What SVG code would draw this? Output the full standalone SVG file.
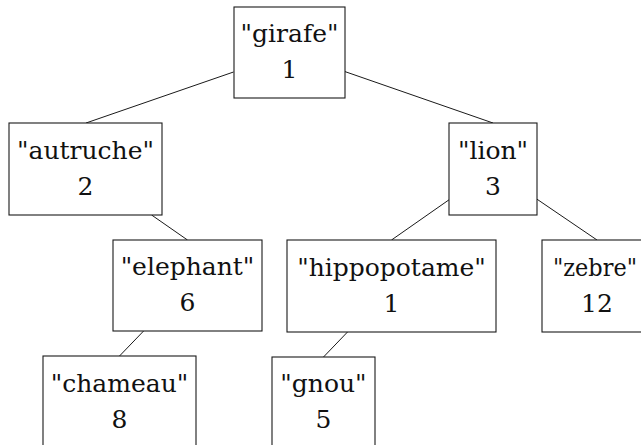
<svg xmlns="http://www.w3.org/2000/svg" width="641" height="445" viewBox="0 0 641 445">
<style>
.box{fill:#fff;stroke:#1a1a1a;stroke-width:1.1}
.edge{stroke:#1a1a1a;stroke-width:1;fill:none}
.t{font-family:'DejaVu Serif',serif;font-size:25px;fill:#111;text-anchor:middle}
</style>
<rect width="641" height="445" fill="#fff"/>
<g id="connectors">
<line class="edge" x1="233.5" y1="72" x2="86" y2="123"/>
<line class="edge" x1="345" y1="71.6" x2="493" y2="123"/>
<line class="edge" x1="151.6" y1="215" x2="187.5" y2="240"/>
<line class="edge" x1="143.6" y1="331" x2="119.5" y2="356"/>
<line class="edge" x1="449" y1="199.8" x2="391.5" y2="240"/>
<line class="edge" x1="537" y1="199.2" x2="597" y2="240"/>
<line class="edge" x1="347.5" y1="332" x2="323.5" y2="357"/>
</g>
<g id="girafe">
<rect class="box" x="234" y="7" width="111" height="91"/>
<text class="t" x="289.5" y="42">"girafe"</text>
<text class="t" x="289.5" y="78">1</text>
</g>
<g id="autruche">
<rect class="box" x="9" y="123" width="153" height="92"/>
<text class="t" x="85.5" y="159">"autruche"</text>
<text class="t" x="85.5" y="195">2</text>
</g>
<g id="lion">
<rect class="box" x="449" y="123" width="88" height="92"/>
<text class="t" x="493" y="159">"lion"</text>
<text class="t" x="493" y="195">3</text>
</g>
<g id="elephant">
<rect class="box" x="113" y="240" width="149" height="91"/>
<text class="t" x="187.5" y="275">"elephant"</text>
<text class="t" x="187.5" y="311">6</text>
</g>
<g id="hippopotame">
<rect class="box" x="287" y="240" width="209" height="92"/>
<text class="t" x="391.5" y="276">"hippopotame"</text>
<text class="t" x="391.5" y="312">1</text>
</g>
<g id="zebre">
<rect class="box" x="542" y="240" width="110" height="92"/>
<text class="t" x="595" y="276" textLength="84" lengthAdjust="spacingAndGlyphs">"zebre"</text>
<text class="t" x="597" y="312">12</text>
</g>
<g id="chameau">
<rect class="box" x="43" y="356" width="153" height="100"/>
<text class="t" x="119.5" y="392">"chameau"</text>
<text class="t" x="119.5" y="428">8</text>
</g>
<g id="gnou">
<rect class="box" x="272" y="357" width="103" height="100"/>
<text class="t" x="323.5" y="392">"gnou"</text>
<text class="t" x="323.5" y="428">5</text>
</g>
</svg>
